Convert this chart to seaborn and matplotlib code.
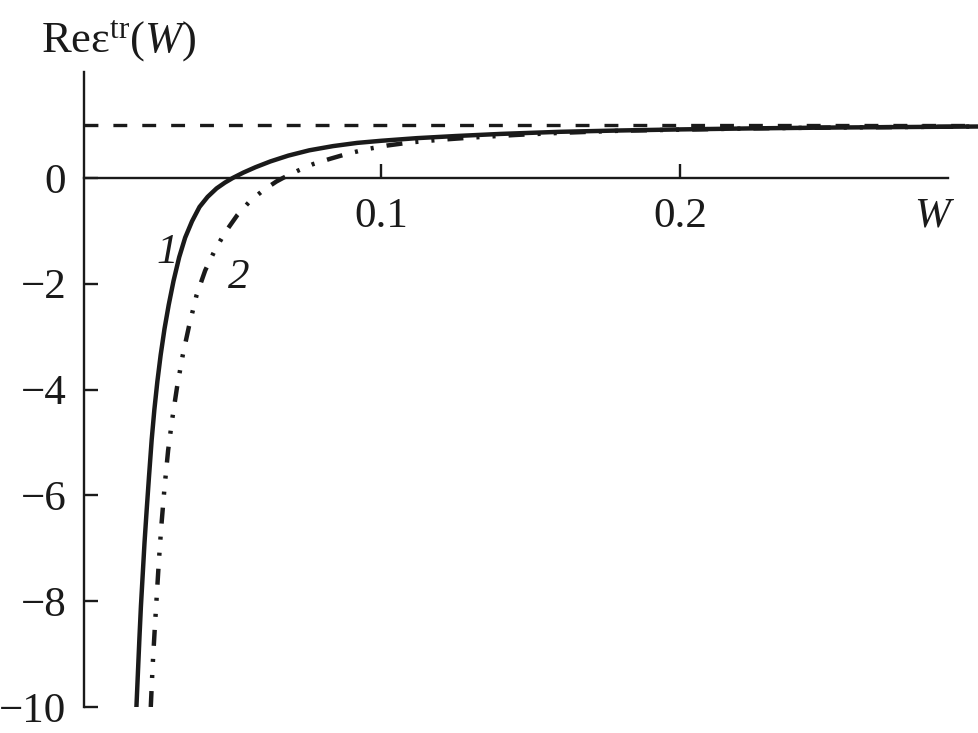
import numpy as np
import pandas as pd
import seaborn as sns
import matplotlib.pyplot as plt

# curve 1 (solid)
w1 = [0.0182, 0.0187, 0.0192, 0.0197, 0.0203, 0.0209, 0.0216, 0.0224, 0.0233,
      0.0242, 0.0252, 0.0263, 0.0276, 0.0290, 0.0306, 0.0325, 0.0345, 0.0368,
      0.0393, 0.0420, 0.0450, 0.0478, 0.0505, 0.054, 0.058, 0.063, 0.069,
      0.076, 0.084, 0.092, 0.100, 0.112, 0.125, 0.140, 0.160, 0.180, 0.200,
      0.225, 0.250, 0.275, 0.300]
re1 = [-10.0, -9.35, -8.7, -8.1, -7.5, -6.9, -6.3, -5.65, -4.95,
       -4.38, -3.85, -3.35, -2.85, -2.4, -1.95, -1.5, -1.13, -0.82,
       -0.55, -0.36, -0.20, -0.09, 0.0, 0.10, 0.20, 0.31, 0.42,
       0.52, 0.60, 0.66, 0.70, 0.75, 0.79, 0.83, 0.87, 0.895, 0.915,
       0.935, 0.95, 0.96, 0.97]

# curve 2 (dash-dot-dot)
w2 = [0.0230, 0.0236, 0.0243, 0.0250, 0.0257, 0.0265, 0.0276, 0.0288, 0.0302,
      0.0318, 0.0337, 0.0358, 0.0383, 0.0412, 0.0445, 0.0480, 0.0520, 0.0560,
      0.0605, 0.0650, 0.0673, 0.0720, 0.0773, 0.083, 0.0885, 0.095, 0.102,
      0.110, 0.120, 0.130, 0.145, 0.160, 0.180, 0.200, 0.225, 0.250, 0.275,
      0.300]
re2 = [-10.0, -9.25, -8.55, -7.9, -7.25, -6.6, -5.85, -5.15, -4.55,
       -3.95, -3.35, -2.8, -2.22, -1.75, -1.36, -1.02, -0.70, -0.45,
       -0.24, -0.07, 0.0, 0.13, 0.26, 0.36, 0.45, 0.54, 0.61,
       0.67, 0.72, 0.76, 0.81, 0.85, 0.89, 0.91, 0.935, 0.95, 0.96,
       0.97]

eps_inf = 1.0
yticks = [-10, -8, -6, -4, -2, 0]
ytick_labels = ['\u221210', '\u22128', '\u22126', '\u22124', '\u22122', '0']
xticks = [0.1, 0.2]
xtick_labels = ['0.1', '0.2']

sns.set_style('white')
plt.rcParams['font.family'] = ['Liberation Serif', 'DejaVu Serif']
plt.rcParams['mathtext.fontset'] = 'custom'
plt.rcParams['mathtext.rm'] = 'Liberation Serif'
plt.rcParams['mathtext.it'] = 'Liberation Serif:italic'
plt.rcParams['lines.scale_dashes'] = False

ink = '#1a1a1a'
fig = plt.figure(figsize=(9.79, 7.33), dpi=100)
ax = fig.add_axes([84.4 / 979, 26 / 733, (979 - 84.4) / 979, 635 / 733])

ax.axhline(eps_inf, color=ink, lw=2.4, linestyle=(0, (10, 10.8)))
sns.lineplot(x=w1, y=re1, ax=ax, color=ink, lw=3.2, sort=False)
sns.lineplot(x=w2, y=re2, ax=ax, color=ink, lw=3.2, sort=False,
             linestyle=(0, (11.5, 9.4, 2.2, 9.4, 2.2, 9.4)))

ax.set_xlim(0.0008, 0.3)
ax.set_ylim(-10, 2)

for s in ['top', 'right']:
    ax.spines[s].set_visible(False)
ax.spines['bottom'].set_position(('data', 0))
ax.spines['bottom'].set_bounds(0.0008, 0.2896)
ax.spines['left'].set_bounds(-10, 2)
for s in ['bottom', 'left']:
    ax.spines[s].set_linewidth(1.7)
    ax.spines[s].set_color(ink)

ax.set_yticks(yticks)
ax.set_yticklabels(ytick_labels)
ax.set_xticks(xticks)
ax.set_xticklabels(xtick_labels)
ax.tick_params(axis='y', direction='in', length=10, width=1.7, pad=13,
               labelsize=31, colors=ink, left=True)
ax.tick_params(axis='x', direction='in', length=10, width=1.7, pad=14,
               labelsize=31, colors=ink, bottom=True)

ax.text(0.2843, -0.72, 'W', fontsize=31, style='italic', ha='center', va='center',
        color=ink)
ax.text(0.0284, -1.42, '1', fontsize=31, style='italic', ha='center', va='center',
        color=ink)
ax.text(0.0525, -1.89, '2', fontsize=31, style='italic', ha='center', va='center',
        color=ink)

fig.text(0.042, 0.929, 'Re\u03b5$^{\\rm tr}$($\\it{W}$)', fontsize=32,
         ha='left', va='baseline', color=ink)

fig.savefig('out.png', dpi=100)
